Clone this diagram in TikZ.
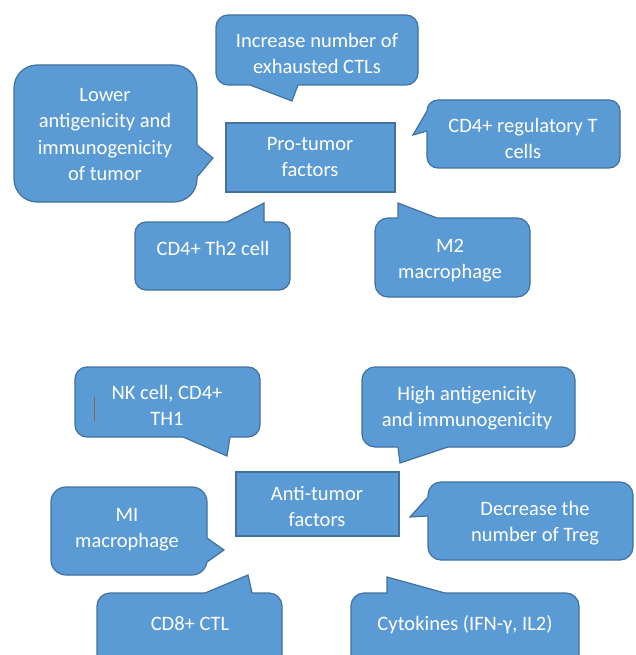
\documentclass[tikz,border=0pt]{standalone}
\usepackage{fontspec}
\setmainfont{Carlito}
\usetikzlibrary{calc}
\definecolor{calfill}{HTML}{5B9BD5}
\definecolor{calline}{HTML}{41719C}
\definecolor{cursorcol}{RGB}{140,100,70}
\tikzset{
 cbox/.style={draw=calline, fill=calfill, line width=1.2pt, inner sep=0pt},
 ctext/.style={text=white, align=center, font=\fontsize{20.5}{26}\selectfont, inner sep=0pt, execute at begin node=\strut, execute at end node=\strut},
 wfill/.style={fill=calfill},
 wline/.style={draw=calline, line width=1.2pt, line join=miter},
}
\newcommand\callwedge[4]{%
 \fill[wfill] ($#1+#4$) -- #1 -- #3 -- #2 -- ($#2+#4$) -- cycle;
 \draw[wline] #1 -- #3 -- #2;}
\begin{document}
\begin{tikzpicture}[x=1pt,y=-1pt]
\useasboundingbox (0,0) rectangle (635,655);
\clip (0,0) rectangle (635,655);
% ---------- Pro-tumor group ----------
\node[cbox, minimum width=183pt, minimum height=137pt, rounded corners=23pt] (lowbox) at (105.5,133.5) {};
\callwedge{(197,145)}{(197,177)}{(213,158)}{(-2,0)}
\node[ctext, font=\fontsize{20.5}{26.5}\selectfont] (lowtext) at (105,138.5) {Lower\\antigenicity and\\immunogenicity\\of tumor};

\node[cbox, minimum width=202pt, minimum height=70pt, rounded corners=12pt] (incbox) at (317,50) {};
\callwedge{(250,85)}{(298,85)}{(292,101)}{(0,-2)}
\node[ctext] (inctext) at (317,57.5) {Increase number of\\exhausted CTLs};

\node[cbox, minimum width=169pt, minimum height=69pt] (probox) at (310.5,157.5) {};
\node[ctext] (protext) at (310,160.5) {Pro-tumor\\factors};

\node[cbox, minimum width=193pt, minimum height=68pt, rounded corners=11pt] (regbox) at (523.5,134) {};
\callwedge{(427,111)}{(427,131)}{(413,135)}{(2,0)}
\node[ctext] (regtext) at (523,142) {CD4+ regulatory T\\cells};

\node[cbox, minimum width=155pt, minimum height=68pt, rounded corners=11pt] (thbox) at (212.5,256) {};
\callwedge{(227,222)}{(264,222)}{(264,203)}{(0,2)}
\node[ctext] (thtext) at (213,250.5) {CD4+ Th2 cell};

\node[cbox, minimum width=155pt, minimum height=79pt, rounded corners=13pt] (mtwobox) at (452.5,257.5) {};
\callwedge{(398,218)}{(437,218)}{(398,203)}{(0,2)}
\node[ctext] (mtwotext) at (450,262.5) {M2\\macrophage};

% ---------- Anti-tumor group ----------
\node[cbox, minimum width=185pt, minimum height=70pt, rounded corners=12pt] (nkbox) at (167.5,402) {};
\callwedge{(183,437)}{(230,437)}{(227,456)}{(0,-2)}
\node[ctext] (nktext) at (167,409.5) {NK cell, CD4+\\TH1};
\draw[cursorcol, line width=1pt] (94,397) -- (94,421);

\node[cbox, minimum width=213pt, minimum height=80pt, rounded corners=13pt] (highbox) at (468.5,407) {};
\callwedge{(398,447)}{(448,447)}{(400,463)}{(0,-2)}
\node[ctext] (hightext) at (467,410) {High antigenicity\\and immunogenicity};

\node[cbox, minimum width=163pt, minimum height=64pt] (antibox) at (317.5,504) {};
\node[ctext] (antitext) at (317,510) {Anti-tumor\\factors};

\node[cbox, minimum width=156pt, minimum height=88pt, rounded corners=15pt] (mibox) at (129,531) {};
\callwedge{(207,538)}{(207,562)}{(224,550)}{(-2,0)}
\node[ctext] (mitext) at (127,531.5) {MI\\macrophage};

\node[cbox, minimum width=205pt, minimum height=78pt, rounded corners=13pt] (decbox) at (530.5,521) {};
\callwedge{(428,497)}{(428,516)}{(410,517)}{(2,0)}
\node[ctext] (dectext) at (535,525) {Decrease the\\number of Treg};

\node[cbox, minimum width=185pt, minimum height=97pt, rounded corners=13pt] (cdebox) at (189.5,641.5) {};
\callwedge{(205,593)}{(252,593)}{(248,575)}{(0,2)}
\node[ctext] (cdetext) at (190,625.5) {CD8+ CTL};

\node[cbox, minimum width=228pt, minimum height=97pt, rounded corners=13pt] (cytbox) at (465,641.5) {};
\callwedge{(387,593)}{(445,593)}{(387,577)}{(0,2)}
\node[ctext] (cyttext) at (465,625.5) {Cytokines (IFN-γ, IL2)};
\end{tikzpicture}
\end{document}
